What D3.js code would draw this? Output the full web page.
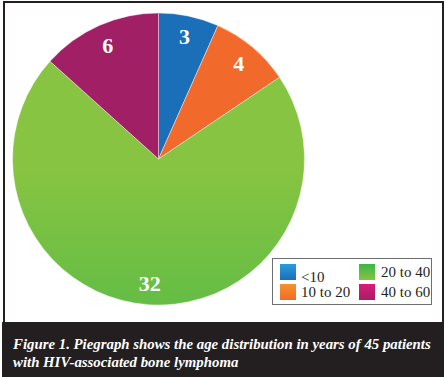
<!DOCTYPE html>
<html>
<head>
<meta charset="utf-8">
<script src="https://cdn.jsdelivr.net/npm/d3@7"></script>
<style>
  body { margin: 0; background: #fff; }
</style>
</head>
<body>
<div class="chart"></div>
<script>
const categories = ["<10", "10 to 20", "20 to 40", "40 to 60"]
const counts = [3, 4, 32, 6]
const captionLines = [
  "Figure 1. Piegraph shows the age distribution in years of 45 patients",
  "with HIV-associated bone lymphoma"
]
// gradient stops per slice: top colour, bottom colour
const topColors = ["#1b6fb8", "#f26a2b", "#86c441", "#a11f64"]
const bottomColors = ["#2a9ddb", "#f7912a", "#3db54a", "#d8247e"]

const width = 446
const height = 377
const cx = 158.5, cy = 159, radius = 146

const svg = d3.select(".chart").append("svg")
  .attr("width", width)
  .attr("height", height)

const defs = svg.append("defs")
categories.forEach((c, i) => {
  // pie gradient, vertical over the whole pie
  const g = defs.append("linearGradient")
    .attr("id", "pg" + i)
    .attr("gradientUnits", "userSpaceOnUse")
    .attr("x1", 0).attr("x2", 0)
    .attr("y1", cy - radius).attr("y2", cy + radius)
  g.append("stop").attr("offset", "0%").attr("stop-color", topColors[i])
  g.append("stop").attr("offset", i == 2 ? "100%" : "55%").attr("stop-color", bottomColors[i])
  // legend swatch gradient (light on top)
  const l = defs.append("linearGradient")
    .attr("id", "lg" + i)
    .attr("x1", 0).attr("x2", 0).attr("y1", 0).attr("y2", 1)
  l.append("stop").attr("offset", "0%").attr("stop-color", i == 3 ? "#d81b7a" : bottomColors[i])
  l.append("stop").attr("offset", "100%").attr("stop-color", i == 3 ? "#a51f62" : topColors[i])
})

// frame
svg.append("rect")
  .attr("x", 4).attr("y", 2)
  .attr("width", 439).attr("height", 380)
  .attr("fill", "none")
  .attr("stroke", "#231f20")
  .attr("stroke-width", 2)

const pie = d3.pie().sort(null).value(d => d)
const arcs = pie(counts)
const arc = d3.arc().innerRadius(0).outerRadius(radius)
const labelArc = d3.arc().innerRadius(125).outerRadius(125)

const g = svg.append("g").attr("transform", `translate(${cx},${cy})`)

g.selectAll("path")
  .data(arcs)
  .join("path")
  .attr("d", arc)
  .attr("fill", (d, i) => `url(#pg${i})`)
  .attr("stroke", "#fff")
  .attr("stroke-width", 0.4)

g.selectAll("text")
  .data(arcs)
  .join("text")
  .attr("transform", d => `translate(${labelArc.centroid(d)})`)
  .attr("dy", "0.35em")
  .attr("text-anchor", "middle")
  .attr("fill", "#fff")
  .attr("font-family", "'Liberation Serif', serif")
  .attr("font-weight", "bold")
  .attr("font-size", 22)
  .text(d => d.data)

// legend
const leg = svg.append("g")
leg.append("rect")
  .attr("x", 272.5).attr("y", 258.5)
  .attr("width", 159).attr("height", 46)
  .attr("fill", "#fff")
  .attr("stroke", "#6d6e71")
  .attr("stroke-width", 1)

const colX = d3.scalePoint().domain([0, 1]).range([280, 359])
const rowY = d3.scalePoint().domain([0, 1]).range([264, 284])

const items = leg.selectAll("g.item")
  .data(categories)
  .join("g")
  .attr("class", "item")
  .attr("transform", (d, i) => {
    const col = i < 2 ? 0 : 1
    const row = i % 2
    return `translate(${colX(col)},${rowY(row)})`
  })

items.append("rect")
  .attr("width", 16).attr("height", 16)
  .attr("fill", (d, i) => `url(#lg${i})`)

items.append("text")
  .attr("x", (d, i) => i < 2 ? 21 : 22)
  .attr("y", (d, i) => i == 0 ? 18 : 13)
  .attr("font-family", "'Liberation Serif', serif")
  .attr("font-size", 15)
  .attr("fill", "#231f20")
  .text(d => d)

// caption band
svg.append("rect")
  .attr("x", 2).attr("y", 322)
  .attr("width", 442).attr("height", 55)
  .attr("fill", "#231f20")

const cap = svg.append("g")
  .selectAll("text")
  .data(captionLines)
  .join("text")
  .attr("x", 13)
  .attr("y", (d, i) => 349 + i * 18)
  .attr("fill", "#fff")
  .attr("font-family", "'Liberation Serif', serif")
  .attr("font-style", "italic")
  .attr("font-weight", "bold")
  .attr("font-size", 16)
  .text(d => d)

// fit first caption line to ~418px by adjusting the font size
const first = cap.filter((d, i) => i == 0).node()
const fs = Math.min(17, 16 * 418 / first.getComputedTextLength())
cap.attr("font-size", fs)
</script>
</body>
</html>
